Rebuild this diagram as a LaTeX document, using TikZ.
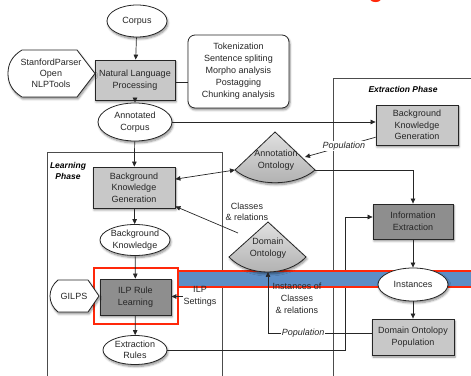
\documentclass[tikz,border=0pt]{standalone}
\usepackage{fontspec}
\setmainfont{Liberation Sans}
\usetikzlibrary{arrows.meta,shapes.geometric,shadows,shadows.blur,calc}

\definecolor{boxlight}{RGB}{200,200,200}
\definecolor{boxdark}{RGB}{142,142,142}
\definecolor{bandblue}{RGB}{92,142,198}
\definecolor{markred}{RGB}{255,40,10}
\definecolor{ink}{RGB}{38,38,38}

\begin{document}
\begin{tikzpicture}[x=1pt,y=1pt,
  font=\fontsize{9}{11.5}\selectfont,
  shad/.style={blur shadow={shadow xshift=1pt,shadow yshift=-2pt,shadow blur steps=6,shadow opacity=45}},
  proc/.style={rectangle, draw=ink, line width=0.8pt, fill=boxlight, shad, align=center, inner sep=1pt, text=ink},
  procdark/.style={proc, fill=boxdark},
  term/.style={ellipse, draw=ink, line width=0.8pt, fill=white, shad, align=center, inner sep=0pt, text=ink},
  note/.style={rectangle, rounded corners=7pt, draw=ink, line width=0.8pt, fill=white, shad, align=center, inner sep=1pt, text=ink},
  sidebox/.style={draw=ink, line width=0.8pt, fill=white, shad},
  onto/.style={draw=ink, line width=0.8pt, top color=black!12, bottom color=black!32, shad},
  phasebox/.style={draw=black!70, line width=0.8pt},
  conn/.style={draw=ink, line width=0.7pt},
  arr/.style={conn, -{Triangle[length=5pt,width=4.5pt]}},
  darr/.style={conn, {Triangle[length=5pt,width=4.5pt]}-{Triangle[length=5pt,width=4.5pt]}},
  lbl/.style={align=center, inner sep=1pt, text=ink},
  pop/.style={lbl, font=\fontsize{9}{11}\selectfont\itshape, fill=white},
  phaselbl/.style={align=center, inner sep=0pt, font=\fontsize{8.5}{11}\selectfont\bfseries\itshape}]

\useasboundingbox (0,0) rectangle (471,375);

% cropped heading letter
\node[anchor=base, inner sep=0pt, text=markred, font=\fontsize{24}{24}\selectfont\bfseries] (headg) at (376,377.5) {g};

% phase frames
\draw[phasebox] (47,-5) rectangle (222,223);
\draw[phasebox] (333,-5) rectangle (480,297);
\node[phaselbl] (lphase) at (68,204) {Learning\\Phase};
\node[phaselbl] (ephase) at (403,286) {Extraction Phase};

% rules feed the extraction step (runs beneath the highlight band)
\node[term, minimum width=64pt, minimum height=29pt] (erules) at (135,25) {Extraction\\Rules};
\node[procdark, minimum width=80pt, minimum height=35pt] (info) at (413,153.5) {Information\\Extraction};
\coordinate (xturn) at (345,158);
\draw[arr] (erules.east) -| (xturn) -- (xturn -| info.west);

% highlight band and frame
\fill[bandblue] (177,88) rectangle (476,104);
\draw[markred, line width=1.6pt] (177,104) -- (476,104);
\draw[markred, line width=1.6pt] (177,88) -- (476,88);
\draw[markred, line width=1.6pt] (94,51) rectangle (178,107);

% top part
\node[term, minimum width=60pt, minimum height=32pt] (corpus) at (137,354) {Corpus};
\node[proc, minimum width=80pt, minimum height=40pt] (nlp) at (135,295) {Natural Language\\Processing};
\node[note, minimum width=101pt, minimum height=73pt, font=\fontsize{9}{12}\selectfont] (tasks) at (238.5,303.5)
  {Tokenization\\Sentence spliting\\Morpho analysis\\Postagging\\Chunking analysis};
\path[sidebox] (22,325) -- (77,325) -- (95,301.5) -- (77,278) -- (22,278)
  .. controls (12,284) and (8,292) .. (8,301.5) .. controls (8,311) and (12,319) .. cycle;
\node[lbl, font=\fontsize{9}{11}\selectfont] (parser) at (51,302) {StanfordParser\\Open\\NLPTools};
\node[term, minimum width=74pt, minimum height=38pt] (acorpus) at (135,253) {Annotated\\Corpus};

% learning phase
\node[proc, minimum width=82pt, minimum height=41pt] (lbkg) at (134,187.5) {Background\\Knowledge\\Generation};
\node[term, minimum width=70pt, minimum height=31pt] (bk) at (135,135) {Background\\Knowledge};
\node[procdark, minimum width=71pt, minimum height=36pt] (ilp) at (135.5,78) {ILP Rule\\Learning};
\path[sidebox] (58,95) -- (88,95) -- (99,79) -- (88,63) -- (58,63)
  .. controls (53,67) and (50,73) .. (50,79) .. controls (50,85) and (53,91) .. cycle;
\node[lbl] (gilps) at (74,79) {GILPS};
\node[lbl] (ilpset) at (200,78.5) {ILP\\Settings};

% ontologies
\coordinate (annL) at (235,205);
\coordinate (annR) at (315,205);
\path[onto] (275,243) -- (annL) .. controls (255,188) and (295,188) .. (annR) -- cycle;
\node[lbl] (annont) at (276,215) {Annotation\\Ontology};
\coordinate (domL) at (229,118);
\coordinate (domR) at (306,118);
\coordinate (domB) at (268,103);
\path[onto] (268,153) -- (domL) .. controls (248,98) and (287,98) .. (domR) -- cycle;
\node[lbl] (domont) at (268,127) {Domain\\Ontology};
\node[lbl] (clsrel) at (247,163) {Classes\\\& relations};
\node[lbl, font=\fontsize{9}{12}\selectfont] (inscls) at (297,77) {Instances of\\Classes\\\& relations};

% extraction phase
\node[proc, minimum width=82pt, minimum height=40pt] (ebkg) at (417,250) {Background\\Knowledge\\Generation};
\node[term, minimum width=70pt, minimum height=33pt] (inst) at (413,90.5) {Instances};
\node[proc, minimum width=82pt, minimum height=36pt] (dop) at (413,38) {Domain Ontolopy\\Population};

% connectors
\coordinate (domtail) at (238,142);
\coordinate (popTip) at (305,218);

\draw[arr] (corpus) -- (nlp);
\draw[arr] (nlp) -- (acorpus);
\draw[conn] ([yshift=-2pt]nlp.east) -- ([yshift=-2pt]nlp.east -| tasks.west);
\draw[arr] (acorpus.east) -- (acorpus.east -| ebkg.west);
\draw[arr] (acorpus) -- (lbkg);
\draw[darr] ($(lbkg.north east)!0.3!(lbkg.south east)$) -- (annL);
\draw[arr] (domtail) -- ([yshift=2pt]lbkg.south east);
\draw[arr] ($(ebkg.north west)!0.8!(ebkg.south west)$) -- node[pop, pos=0.45] (popa) {Population} (popTip);
\draw[arr] (annR) -| (info.north);
\draw[arr] (lbkg) -- (bk);
\draw[arr] (bk) -- (ilp);
\draw[arr] (ilp) -- (erules);
\draw[arr] (ilpset.west) -- (ilpset.west -| ilp.east);
\draw[arr] (info) -- (inst);
\draw[arr] (inst) -- (dop);
\draw[arr] ([yshift=4pt]dop.west) -- node[pop, pos=0.66] (popb) {Population} ([yshift=4pt]dop.west -| domB) -- (domB);
\end{tikzpicture}
\end{document}
